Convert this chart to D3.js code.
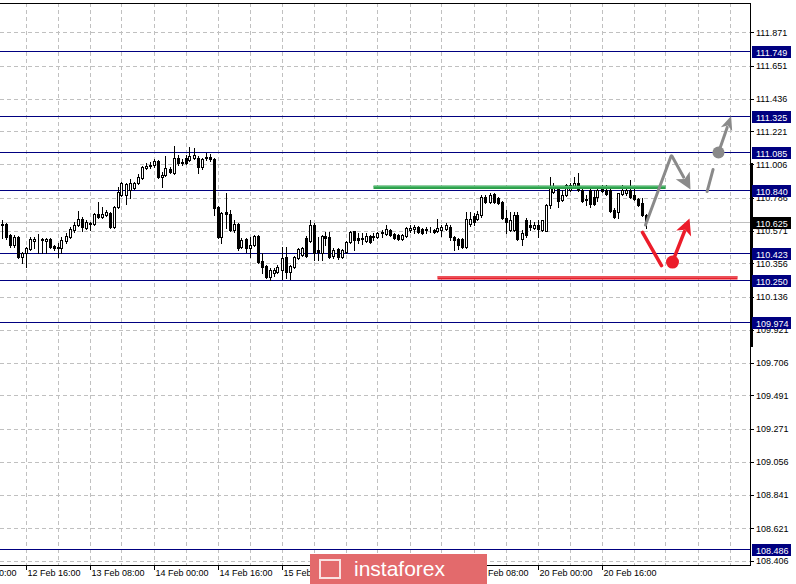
<!DOCTYPE html>
<html><head><meta charset="utf-8">
<script src="https://cdn.jsdelivr.net/npm/d3@7"></script>
<style>html,body{margin:0;padding:0;background:#fff;overflow:hidden}svg{display:block}</style>
</head><body>
<svg id="c" width="796" height="584"></svg>
<script>
// ---- data ----
const open = [
110.615,110.615,110.543,110.478,110.530,110.399,110.425,110.452,110.504,110.510,
110.510,110.504,110.517,110.471,110.458,110.458,110.504,110.530,110.576,110.609,
110.648,110.589,110.615,110.615,110.681,110.661,110.674,110.687,110.596,110.727,
110.805,110.805,110.838,110.851,110.884,110.917,110.982,110.995,111.002,111.028,
110.923,110.936,110.976,110.949,111.048,111.021,111.048,111.034,111.048,111.048,
110.989,111.048,111.054,111.041,110.727,110.530,110.694,110.681,110.576,110.615,
110.465,110.517,110.458,110.478,110.537,110.373,110.340,110.268,110.294,110.301,
110.314,110.399,110.301,110.334,110.393,110.412,110.524,110.504,110.609,110.445,
110.425,110.537,110.530,110.406,110.452,110.399,110.432,110.497,110.569,110.524,
110.517,110.504,110.537,110.530,110.530,110.563,110.550,110.576,110.550,110.543,
110.517,110.537,110.576,110.583,110.596,110.583,110.576,110.576,110.576,110.569,
110.576,110.583,110.596,110.530,110.517,110.517,110.465,110.615,110.668,110.648,
110.674,110.792,110.759,110.812,110.786,110.759,110.655,110.576,110.576,110.674,
110.517,110.641,110.609,110.589,110.609,110.576,110.569,110.740,110.825,110.845,
110.773,110.805,110.838,110.858,110.884,110.838,110.773,110.838,110.792,110.792,
110.851,110.838,110.838,110.707,110.694,110.812,110.818,110.838,110.805,110.779,
110.753,110.674];
const high = [
110.641,110.618,110.550,110.543,110.537,110.432,110.465,110.530,110.530,110.550,
110.524,110.524,110.524,110.478,110.491,110.530,110.556,110.596,110.628,110.700,
110.661,110.641,110.628,110.687,110.759,110.727,110.707,110.694,110.733,110.858,
110.890,110.884,110.910,110.890,110.943,110.995,111.015,111.021,111.041,111.034,
110.956,111.061,110.989,111.126,111.067,111.041,111.067,111.120,111.113,111.061,
111.048,111.080,111.074,111.048,110.733,110.694,110.818,110.707,110.641,110.622,
110.524,110.524,110.530,110.543,110.543,110.425,110.347,110.327,110.327,110.347,
110.465,110.465,110.347,110.406,110.458,110.465,110.537,110.641,110.622,110.530,
110.543,110.563,110.563,110.458,110.458,110.452,110.504,110.569,110.569,110.556,
110.556,110.556,110.543,110.556,110.563,110.576,110.609,110.583,110.556,110.550,
110.550,110.596,110.609,110.609,110.602,110.589,110.596,110.596,110.583,110.648,
110.609,110.622,110.609,110.537,110.524,110.524,110.694,110.694,110.687,110.700,
110.805,110.805,110.818,110.818,110.792,110.766,110.707,110.694,110.694,110.694,
110.576,110.655,110.641,110.628,110.641,110.641,110.746,110.923,110.884,110.851,
110.838,110.877,110.884,110.923,110.949,110.851,110.805,110.851,110.838,110.845,
110.871,110.871,110.845,110.720,110.818,110.871,110.858,110.903,110.845,110.786,
110.786,110.681];
const low = [
110.524,110.517,110.465,110.465,110.393,110.360,110.334,110.445,110.458,110.425,
110.425,110.425,110.458,110.445,110.399,110.425,110.491,110.524,110.563,110.602,
110.569,110.583,110.576,110.609,110.655,110.655,110.668,110.589,110.589,110.720,
110.799,110.746,110.786,110.845,110.877,110.910,110.976,110.982,110.989,110.917,
110.858,110.930,110.949,110.943,111.002,111.002,111.008,111.028,111.041,110.949,
110.976,111.034,111.028,110.674,110.524,110.491,110.589,110.569,110.563,110.445,
110.458,110.432,110.399,110.471,110.360,110.294,110.262,110.249,110.275,110.294,
110.255,110.262,110.255,110.327,110.386,110.406,110.399,110.497,110.380,110.380,
110.380,110.478,110.393,110.393,110.386,110.393,110.425,110.491,110.445,110.491,
110.484,110.497,110.491,110.510,110.524,110.530,110.543,110.537,110.517,110.510,
110.510,110.530,110.563,110.556,110.556,110.550,110.556,110.563,110.556,110.563,
110.537,110.576,110.510,110.445,110.452,110.458,110.458,110.602,110.609,110.641,
110.661,110.753,110.753,110.753,110.746,110.648,110.556,110.569,110.569,110.510,
110.478,110.530,110.576,110.583,110.530,110.569,110.569,110.720,110.818,110.727,
110.766,110.799,110.831,110.851,110.831,110.759,110.740,110.727,110.740,110.766,
110.825,110.805,110.694,110.655,110.655,110.805,110.805,110.786,110.773,110.733,
110.668,110.589];
const close = [
110.609,110.530,110.478,110.530,110.399,110.425,110.458,110.517,110.517,110.507,
110.514,110.517,110.465,110.458,110.465,110.510,110.537,110.583,110.609,110.648,
110.596,110.628,110.622,110.681,110.661,110.681,110.694,110.596,110.727,110.825,
110.884,110.877,110.884,110.884,110.923,110.989,110.995,111.002,111.028,110.923,
110.936,110.982,110.956,111.048,111.015,111.015,111.015,111.061,111.067,110.989,
111.041,111.054,111.041,110.720,110.530,110.687,110.681,110.576,110.615,110.458,
110.510,110.458,110.478,110.537,110.366,110.334,110.268,110.314,110.314,110.334,
110.393,110.301,110.340,110.399,110.452,110.458,110.406,110.609,110.425,110.432,
110.537,110.524,110.399,110.445,110.399,110.445,110.497,110.563,110.510,110.510,
110.524,110.537,110.497,110.537,110.556,110.556,110.583,110.543,110.524,110.517,
110.543,110.589,110.589,110.596,110.563,110.556,110.583,110.573,110.563,110.589,
110.596,110.609,110.530,110.510,110.478,110.465,110.648,110.648,110.628,110.681,
110.792,110.759,110.805,110.759,110.753,110.655,110.628,110.641,110.674,110.517,
110.556,110.543,110.596,110.609,110.583,110.641,110.740,110.858,110.858,110.766,
110.805,110.871,110.871,110.884,110.838,110.766,110.779,110.746,110.746,110.838,
110.831,110.812,110.700,110.661,110.818,110.838,110.838,110.792,110.779,110.740,
110.674,110.625];

const priceTicks = ["111.871","111.651","111.436","111.221","111.006","110.786","110.571","110.356","110.136","109.921","109.706","109.491","109.271","109.056","108.841","108.621","108.406"];
const timeTickIdx = [-10, 6, 22, 38, 54, 70, 86, 102, 118, 134, 150];
const timeTickLabels = ["12 Feb 00:00","12 Feb 16:00","13 Feb 08:00","14 Feb 00:00","14 Feb 16:00","15 Feb 08:00","18 Feb 00:00","18 Feb 16:00","19 Feb 08:00","20 Feb 00:00","20 Feb 16:00"];
const levels = [111.749, 111.325, 111.085, 110.840, 110.423, 110.250, 109.974, 108.486];
const currentPrice = 110.625;
const greenLine = [[93, 110.855], [166, 110.855]];
const redLine = [[109, 110.262], [184, 110.262]];
const grayUp = [[161, 110.608], [167.4, 111.060]];
const grayDownArrow = [[167.6, 111.060], [172.25, 110.841]];
const grayDash = [[176.4, 110.827], [177.9, 110.972]];
const grayDot = [179.25, 111.083];
const grayUpArrow = [[179.25, 111.083], [182.4, 111.322]];
const redDown = [[160.25, 110.559], [165, 110.342]];
const redDot = [167.75, 110.365];
const redUpArrow = [[167.75, 110.365], [172, 110.650]];

// ---- chart ----
const svg = d3.select("#c");
const W = 796, H = 584, plotR = 750, plotB = 565, plotT = 3;
const x = d3.scaleLinear().domain([0, 161]).range([1.5, 645.5]);
const y = d3.scaleLinear().domain([108.406, 111.871]).range([560.9, 32.3]);
const FONT = "'Liberation Sans', Arial, sans-serif";

const plot = svg.append("g");
plot.append("defs").append("clipPath").attr("id","pc").append("rect").attr("x",0).attr("y",plotT).attr("width",plotR).attr("height",plotB-plotT);
const g = plot.append("g").attr("clip-path","url(#pc)");

// grid
const gridIdx = d3.range(6, 190, 8);
g.selectAll(".vg").data(gridIdx).join("line")
  .attr("x1", d => Math.round(x(d)) + 0.5).attr("x2", d => Math.round(x(d)) + 0.5)
  .attr("y1", plotT).attr("y2", plotB)
  .attr("stroke", "#c0c0c0").attr("stroke-dasharray", "4,3");
g.selectAll(".hg").data(priceTicks).join("line")
  .attr("x1", 0).attr("x2", plotR)
  .attr("y1", d => Math.round(y(+d)) + 0.5).attr("y2", d => Math.round(y(+d)) + 0.5)
  .attr("stroke", "#c0c0c0").attr("stroke-dasharray", "4,3");

// level lines
g.selectAll(".lv").data(levels).join("line")
  .attr("x1", 0).attr("x2", plotR)
  .attr("y1", d => Math.round(y(d)) + 0.5).attr("y2", d => Math.round(y(d)) + 0.5)
  .attr("stroke", "#000080").attr("stroke-width", 1);
g.append("line").attr("x1",0).attr("x2",plotR)
  .attr("y1", Math.round(y(currentPrice))+0.5).attr("y2", Math.round(y(currentPrice))+0.5)
  .attr("stroke","#c0c0c0");

// candles
const candles = d3.range(close.length).map(i => ({i, o: open[i], h: high[i], l: low[i], c: close[i]}));
const cg = g.append("g");
cg.selectAll(".wick").data(candles).join("line")
  .attr("x1", d => Math.round(x(d.i)) + 0.5).attr("x2", d => Math.round(x(d.i)) + 0.5)
  .attr("y1", d => Math.round(y(d.h))).attr("y2", d => Math.round(y(d.l)) + 1)
  .attr("stroke", "#000");
cg.selectAll(".body").data(candles).join("rect")
  .attr("x", d => Math.round(x(d.i)) - 0.5)
  .attr("y", d => Math.round(y(Math.max(d.o, d.c))) + 0.5)
  .attr("width", 2)
  .attr("height", d => Math.max(0, Math.round(y(Math.min(d.o, d.c))) - Math.round(y(Math.max(d.o, d.c)))))
  .attr("fill", d => d.c >= d.o ? "#fff" : "#000")
  .attr("stroke", "#000");

// annotations
const line = d3.line().x(d => x(d[0])).y(d => y(d[1]));
g.append("path").attr("d", line(greenLine)).attr("stroke", "#2a9d48").attr("stroke-width", 3.5).attr("fill","none");
g.append("path").attr("d", line(greenLine.map(p=>[p[0], p[1]+0.004]))).attr("stroke", "#5cc27a").attr("stroke-width", 1).attr("fill","none");
g.append("path").attr("d", line(redLine)).attr("stroke", "#e8202b").attr("stroke-width", 3.5).attr("fill","none");
g.append("path").attr("d", line(redLine.map(p=>[p[0], p[1]+0.005]))).attr("stroke", "#f08088").attr("stroke-width", 1).attr("fill","none");

function arrow(pts, color, width, headLen, headW) {
  const [p0, p1] = pts;
  const x0 = x(p0[0]), y0 = y(p0[1]), x1 = x(p1[0]), y1 = y(p1[1]);
  const dx = x1 - x0, dy = y1 - y0, L = Math.hypot(dx, dy), ux = dx / L, uy = dy / L;
  const bx = x1 - ux * headLen, by = y1 - uy * headLen;
  g.append("line").attr("x1", x0).attr("y1", y0).attr("x2", bx + ux*2).attr("y2", by + uy*2)
    .attr("stroke", color).attr("stroke-width", width).attr("stroke-linecap","round");
  g.append("path").attr("d", `M${x1},${y1}L${bx - uy*headW},${by + ux*headW}L${bx + ux*4},${by + uy*4}L${bx + uy*headW},${by - ux*headW}Z`)
    .attr("fill", color);
}
const GRAY = "#8a8a8a", RED = "#ec1c2a";
g.append("path").attr("d", line(grayUp)).attr("stroke", GRAY).attr("stroke-width", 3).attr("fill","none").attr("stroke-linecap","round");
arrow(grayDownArrow, GRAY, 3, 16, 8);
g.append("path").attr("d", line(grayDash)).attr("stroke", GRAY).attr("stroke-width", 3).attr("fill","none").attr("stroke-linecap","round");
arrow(grayUpArrow, GRAY, 3, 14, 6);
g.append("circle").attr("cx", x(grayDot[0])).attr("cy", y(grayDot[1])).attr("r", 6).attr("fill", GRAY);
g.append("path").attr("d", line(redDown)).attr("stroke", RED).attr("stroke-width", 3.5).attr("fill","none").attr("stroke-linecap","round");
arrow(redUpArrow, RED, 3.5, 16, 8);
g.append("circle").attr("cx", x(redDot[0])).attr("cy", y(redDot[1])).attr("r", 6.5).attr("fill", RED);

// frame
svg.append("line").attr("x1",0).attr("x2",plotR+0.5).attr("y1",plotT+0.5).attr("y2",plotT+0.5).attr("stroke","#000");
svg.append("line").attr("x1",0).attr("x2",plotR+0.5).attr("y1",plotB+0.5).attr("y2",plotB+0.5).attr("stroke","#000");
svg.append("line").attr("x1",plotR+0.5).attr("x2",plotR+0.5).attr("y1",plotT).attr("y2",plotB+1).attr("stroke","#000");
svg.append("rect").attr("x", plotR).attr("y", 163).attr("width", 3).attr("height", 184).attr("fill", "#000");

// right axis
const ra = svg.append("g");
ra.selectAll("line").data(priceTicks).join("line")
  .attr("x1", plotR).attr("x2", plotR + 4)
  .attr("y1", d => Math.round(y(+d)) + 0.5).attr("y2", d => Math.round(y(+d)) + 0.5).attr("stroke","#000");
ra.selectAll("text").data(priceTicks).join("text")
  .attr("x", 756).attr("y", d => y(+d) + 3.5)
  .attr("font-family", FONT).attr("font-size", 9).attr("fill", "#000").text(d => d);

// level labels
const lbl = svg.append("g");
const allLv = levels.map(v => ({v, bg: "#000080"})).concat([{v: currentPrice, bg: "#000"}]);
lbl.selectAll("rect").data(allLv).join("rect")
  .attr("x", 752).attr("y", d => Math.round(y(d.v)) - 5).attr("width", 39).attr("height", 12).attr("fill", d => d.bg);
lbl.selectAll("text").data(allLv).join("text")
  .attr("x", 756).attr("y", d => Math.round(y(d.v)) + 4.5)
  .attr("font-family", FONT).attr("font-size", 9).attr("fill", "#fff").text(d => d.v.toFixed(3));

// bottom axis
const ba = svg.append("g");
ba.selectAll("line").data(timeTickIdx).join("line")
  .attr("x1", d => Math.round(x(d)) + 0.5).attr("x2", d => Math.round(x(d)) + 0.5)
  .attr("y1", plotB).attr("y2", plotB + 5).attr("stroke", "#000");
ba.selectAll("text").data(timeTickIdx).join("text")
  .attr("x", d => x(d) + 2).attr("y", 576)
  .attr("font-family", FONT).attr("font-size", 9).attr("fill", "#000")
  .text((d, i) => timeTickLabels[i]);

// watermark
const wm = svg.append("g");
wm.append("rect").attr("x", 310).attr("y", 554).attr("width", 177).attr("height", 30).attr("fill", "#e36a6c");
wm.append("rect").attr("x", 320).attr("y", 560).attr("width", 20).attr("height", 18).attr("fill", "none").attr("stroke", "#fff").attr("stroke-width", 2).attr("opacity", 0.8);
wm.append("text").attr("x", 354).attr("y", 576).attr("font-family", FONT).attr("font-size", 21).attr("fill", "#fff").text("instaforex");
</script>
</body></html>
